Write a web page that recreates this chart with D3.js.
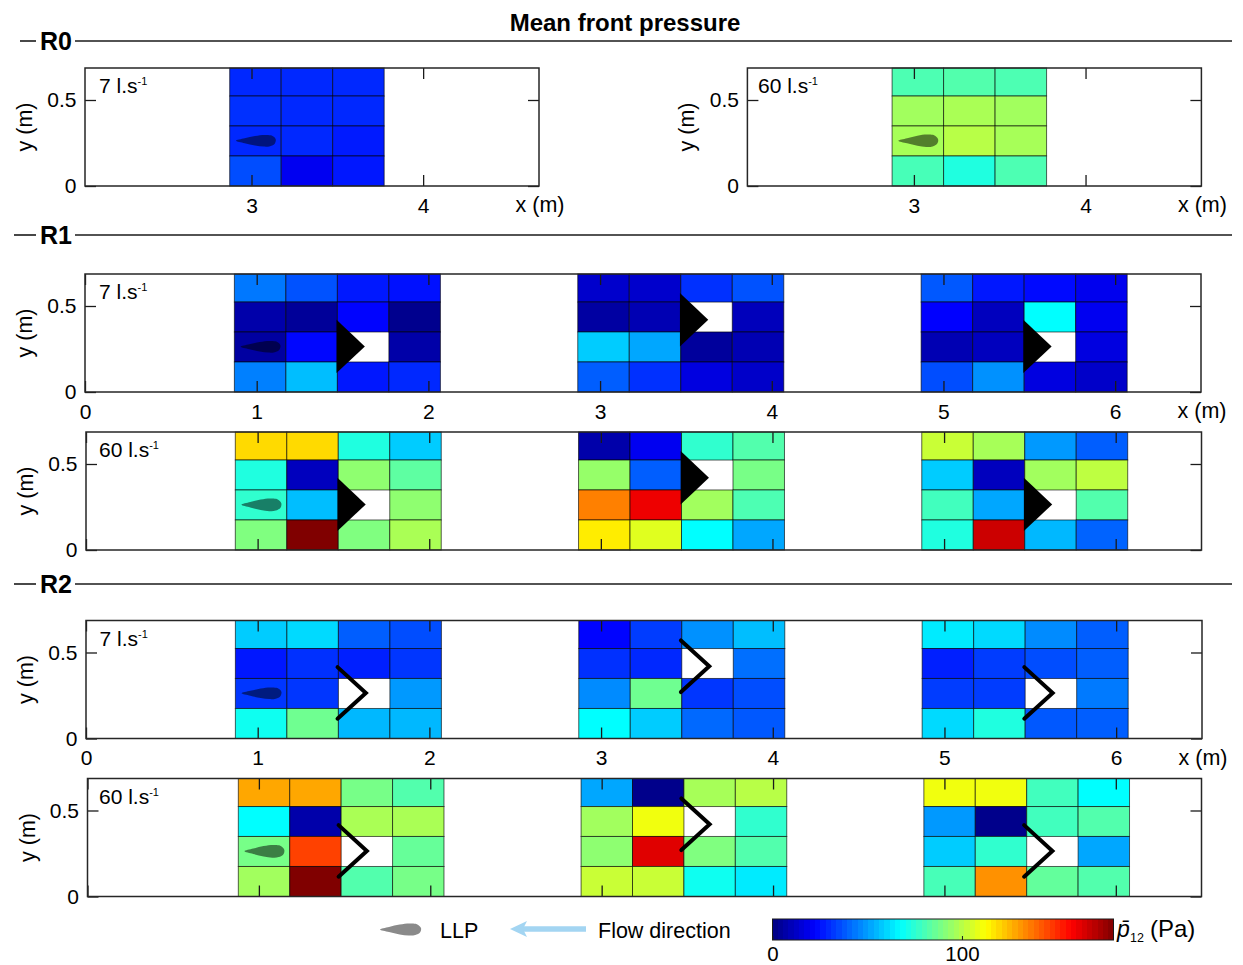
<!DOCTYPE html>
<html><head><meta charset="utf-8">
<script src="https://cdn.jsdelivr.net/npm/d3@7"></script>
<style>
html,body{margin:0;padding:0;background:#fff}
svg{display:block}
text{font-family:"Liberation Sans",Arial,sans-serif;fill:#000}
</style></head><body><div id="chart"></div>
<script>
// ---------- data (mean front pressure, Pa; rows top to bottom, null = gate cell) ----------
const r0_7   = [[29.5,29.5,29.5],[31,29.5,29.5],[29.5,29.5,27],[36,20,26.5]];
const r0_60  = [[81,82,81],[96,97.5,96],[97,100,97],[80,73,81]];
const r1_7_a = [[43.6,37,26.7,25.3],[7.5,4.5,23,2.5],[5.8,23.5,null,7],[45,56,26.5,29.5]];
const r1_7_b = [[13.5,13.5,31,37],[6,9,null,10.5],[58.5,52,5,9],[39,31,17,13]];
const r1_7_c = [[38,26.5,24,19.5],[22.5,11,67.5,20],[9,11,null,17],[36,48,17,13]];
const r1_60_a= [[119,119,73,58.5],[73,11,92.7,84],[76,56,null,92.7],[90,180,90,97.5]];
const r1_60_b= [[7.5,20,76,82],[94,39,null,88.6],[135,160.6,96,81],[115.6,107,67.5,52]];
const r1_60_c= [[103,97,49.5,39],[58.5,11,96,101],[79,52,null,82],[73,166.5,55,40]];
const r2_7_a = [[58.5,61,39,36],[26.5,31,28,32],[32,32,null,49.5],[70,87,55,55]];
const r2_7_b = [[23,33,48,56],[31,29.5,null,42],[47,87,32,36],[67.5,58.5,41,38]];
const r2_7_c = [[64,61,47,39],[28,33,36,39],[33,33,null,44],[61,73,38,39]];
const r2_60_a= [[128,128,88.5,82],[67.5,7.5,97.5,97.5],[88.5,146,null,85.5],[96,180,82,88.5]];
const r2_60_b= [[52,2,97,100],[96,110,null,76],[92.5,163,90,82],[103,103,70,64]];
const r2_60_c= [[110,110,79,67.5],[49.5,2,79,82],[58.5,76,null,52],[80,132,85,82]];

const rowEdges = [0.686,0.523,0.349,0.1745,0];   // y (m) of the row boundaries, top to bottom
const cellWidth = 0.3;                           // x (m)
const xTicksFull = [0,1,2,3,4,5,6];
const xTicksR0 = [3,4];
const yTicks = [0,0.5];
const gateY = [0.265,0.42,0.265];                // gate apex height per group (m)
const jetDomain = [0,22.5,67.5,112.5,157.5,180];
const jetRange = ["#000080","#0000ff","#00ffff","#ffff00","#ff0000","#800000"];
const cbTicks = [0,100];

// ---------- layout ----------
const W=1243,H=965;
const svg=d3.select("#chart").append("svg").attr("width",W).attr("height",H).attr("viewBox",`0 0 ${W} ${H}`);
const jet=d3.scaleLinear().domain(jetDomain).range(jetRange).interpolate(d3.interpolateRgb).clamp(true);
const FS=21, FL=21.5, FRAME="#262626";

const panels=[
 {l:85,r:539,t:68,b:186,dom:[2.03,4.675],ticks:xTicksR0,labels:true,q:"7",qx:99,groups:[{x:2.873,v:r0_7}],xlab:true,hw:.034},
 {l:747.4,r:1201.4,t:68,b:186,dom:[2.03,4.675],ticks:xTicksR0,labels:true,q:"60",qx:758,groups:[{x:2.873,v:r0_60}],xlab:true,hw:.036},
 {l:85,r:1201,t:274,b:392,dom:[0,6.5],ticks:xTicksFull,labels:true,q:"7",qx:99,groups:[{x:.87,v:r1_7_a},{x:2.87,v:r1_7_b},{x:4.87,v:r1_7_c}],xlab:true,gate:"tri",hw:.034},
 {l:86,r:1201.5,t:432,b:550,dom:[0,6.5],ticks:xTicksFull,labels:false,q:"60",qx:99,groups:[{x:.87,v:r1_60_a},{x:2.87,v:r1_60_b},{x:4.87,v:r1_60_c}],gate:"tri",hw:.037},
 {l:86,r:1202,t:620.5,b:738.5,dom:[0,6.5],ticks:xTicksFull,labels:true,q:"7",qx:99.5,groups:[{x:.87,v:r2_7_a},{x:2.87,v:r2_7_b},{x:4.87,v:r2_7_c}],xlab:true,gate:"chev",hw:.034},
 {l:87.5,r:1201.5,t:778.5,b:896.5,dom:[0,6.5],ticks:xTicksFull,labels:false,q:"60",qx:99,groups:[{x:.88,v:r2_60_a},{x:2.88,v:r2_60_b},{x:4.88,v:r2_60_c}],gate:"chev",hw:.037}
];

// teardrop outline in unit coordinates (tip left, round end right)
const llpShape=[[0,0],[.22,.42],[.48,.82],[.72,1],[.9,.88],[1,.25],[.98,-.45],[.86,-.92],[.7,-1],[.48,-.82],[.22,-.42]];
const llpLine=d3.line().curve(d3.curveCatmullRomClosed.alpha(.5));

panels.forEach(p=>{
  const x=d3.scaleLinear().domain(p.dom).range([p.l,p.r]);
  const y=d3.scaleLinear().domain([0,.686]).range([p.b,p.t]);
  const g=svg.append("g");

  p.groups.forEach(grp=>{
    const cells=grp.v.flatMap((row,ri)=>row.map((v,ci)=>({v,ri,ci})));
    g.selectAll(null).data(cells.filter(d=>d.v!==null)).join("rect")
      .attr("x",d=>x(grp.x+d.ci*cellWidth))
      .attr("width",x(cellWidth)-x(0))
      .attr("y",d=>y(rowEdges[d.ri]))
      .attr("height",d=>y(rowEdges[d.ri+1])-y(rowEdges[d.ri]))
      .attr("fill",d=>jet(d.v))
      .attr("stroke","#000").attr("stroke-opacity",.62).attr("stroke-width",1);
  });

  // axes (inward ticks on all four sides, as on a boxed plot)
  const styleAxis=s=>{s.select(".domain").remove();s.selectAll("line").attr("stroke","#1a1a1a").attr("stroke-width",1.3);
    s.selectAll("text").attr("fill","#000").style("font-size",FS+"px").style("font-family","'Liberation Sans',Arial,sans-serif");};
  const bottom=d3.axisBottom(x).tickValues(p.ticks).tickSize(-11).tickPadding(12).tickFormat(d3.format("~g"));
  if(!p.labels) bottom.tickFormat("");
  g.append("g").attr("transform",`translate(0,${p.b})`).call(bottom).call(styleAxis);
  g.append("g").attr("transform",`translate(0,${p.t})`).call(d3.axisTop(x).tickValues(p.ticks).tickSize(-11).tickFormat("")).call(styleAxis);
  g.append("g").attr("transform",`translate(${p.l},0)`).call(d3.axisLeft(y).tickValues(yTicks).tickSize(-11).tickPadding(8.5).tickFormat(d3.format("~g"))).call(styleAxis);
  g.append("g").attr("transform",`translate(${p.r},0)`).call(d3.axisRight(y).tickValues(yTicks).tickSize(-11).tickFormat("")).call(styleAxis);

  g.append("rect").attr("x",p.l).attr("y",p.t).attr("width",p.r-p.l).attr("height",p.b-p.t)
    .attr("fill","none").attr("stroke",FRAME).attr("stroke-width",1.5);

  // LLP teardrop in the first group
  const x0=p.groups[0].x;
  const pts=llpShape.map(([u,v])=>[x(x0+.036+u*.232),y(.263+v*p.hw)]);
  g.append("path").attr("d",llpLine(pts)).attr("fill","#000").attr("fill-opacity",.5);

  // gates
  if(p.gate){
    p.groups.forEach((grp,gi)=>{
      const bx=Math.round(grp.x-.87)+1.465, ax=bx+.165, ay=gateY[gi];
      if(p.gate==="tri"){
        g.append("path").attr("d",d3.line()([[x(bx),y(ay+.155)],[x(ax),y(ay)],[x(bx),y(ay-.155)]])+"Z").attr("fill","#000");
      }else{
        g.append("path").attr("d",d3.line()([[x(bx),y(ay+.15)],[x(ax),y(ay)],[x(bx),y(ay-.15)]]))
          .attr("fill","none").attr("stroke","#000").attr("stroke-width",4).attr("stroke-linecap","round");
      }
    });
  }

  // rate label
  const t=g.append("text").attr("x",p.qx).attr("y",p.t+25).style("font-size",FS+"px");
  t.append("tspan").text(p.q+" l.s");
  t.append("tspan").attr("dy",-8).style("font-size","11px").text("-1");

  // axis titles
  g.append("text").attr("transform",`translate(${p.l-53},${(p.t+p.b)/2}) rotate(-90)`).attr("text-anchor","middle").style("font-size",FL+"px").text("y (m)");
  if(p.xlab) g.append("text").attr("x",p.r+1).attr("y",p.b+26).attr("text-anchor","middle").style("font-size",FL+"px").text("x (m)");
});

// title and section rules
svg.append("text").attr("x",625).attr("y",31).attr("text-anchor","middle").attr("font-weight","bold").style("font-size","24px").text("Mean front pressure");
const sections=[{n:"R0",y:41,x0:20},{n:"R1",y:235,x0:14},{n:"R2",y:584,x0:14}];
sections.forEach(s=>{
  svg.append("line").attr("x1",s.x0).attr("x2",36).attr("y1",s.y).attr("y2",s.y).attr("stroke","#1a1a1a").attr("stroke-width",1.6);
  svg.append("line").attr("x1",75).attr("x2",1232).attr("y1",s.y).attr("y2",s.y).attr("stroke","#1a1a1a").attr("stroke-width",1.6);
  svg.append("text").attr("x",56).attr("y",s.y+9).attr("text-anchor","middle").attr("font-weight","bold").style("font-size","25px").text(s.n);
});

// legend: LLP
const lx=d3.scaleLinear().domain([0,1]).range([380,421]), ly=d3.scaleLinear().domain([-1,1]).range([935.5,923.5]);
svg.append("path").attr("d",llpLine(llpShape.map(([u,v])=>[lx(u),ly(v)]))).attr("fill","#8a8a8a");
svg.append("text").attr("x",440).attr("y",937.5).style("font-size",FL+"px").text("LLP");

// legend: flow arrow
svg.append("line").attr("x1",586).attr("x2",522).attr("y1",929).attr("y2",929).attr("stroke","#a3d5f2").attr("stroke-width",5.5);
svg.append("path").attr("d",d3.line()([[510,929],[527,921],[523,929],[527,937]])+"Z").attr("fill","#a3d5f2");
svg.append("text").attr("x",598).attr("y",937.5).style("font-size",FL+"px").text("Flow direction");

// colour bar
const cb=d3.scaleLinear().domain([0,180]).range([772.5,1113.5]);
const bands=d3.range(64).map(i=>i*180/64);
svg.selectAll(null).data(bands).join("rect")
  .attr("x",d=>cb(d)).attr("y",919).attr("height",21).attr("width",cb(180/64)-cb(0)+.5)
  .attr("fill",d=>jet(d+180/128)).attr("shape-rendering","crispEdges");
svg.append("rect").attr("x",772.5).attr("y",919).attr("width",341).attr("height",21).attr("fill","none").attr("stroke","#1a1a1a").attr("stroke-width",1);
svg.append("g").attr("transform","translate(0,940)")
  .call(d3.axisBottom(cb).tickValues(cbTicks).tickSize(-4).tickPadding(6))
  .call(s=>{s.select(".domain").remove();s.selectAll("line").attr("stroke","#1a1a1a");
    s.selectAll("text").attr("fill","#000").style("font-size","20.5px").style("font-family","'Liberation Sans',Arial,sans-serif");});
svg.append("text").attr("x",1117).attr("y",937).attr("font-style","italic").style("font-size","23px").text("p\u0304");
svg.append("text").attr("x",1130).attr("y",942).style("font-size","12.5px").text("12");
svg.append("text").attr("x",1150).attr("y",937).style("font-size","24px").text("(Pa)");
</script></body></html>
